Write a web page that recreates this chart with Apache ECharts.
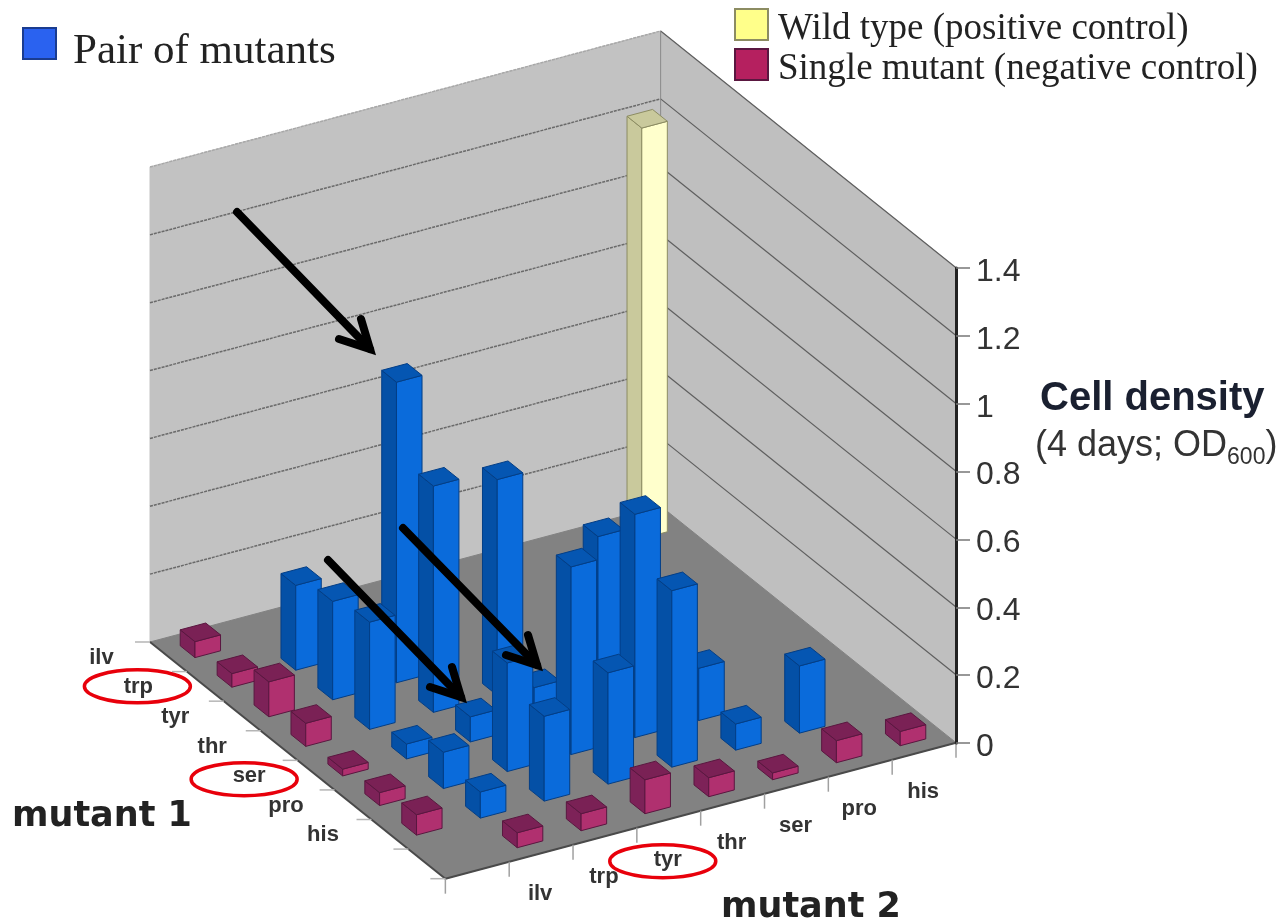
<!DOCTYPE html>
<html>
<head>
<meta charset="utf-8">
<title>Cell density of mutant pairs</title>
<style>
  html, body { margin: 0; padding: 0; background: #fff; }
  #chart { width: 1283px; height: 923px; }
</style>
</head>
<body>
<div id="chart"></div>
<script src="https://cdn.jsdelivr.net/npm/echarts@6/dist/echarts.min.js"></script>
<script>
var mutants = ["ilv", "trp", "tyr", "thr", "ser", "pro", "his"];
var zTicks = [0, 0.2, 0.4, 0.6, 0.8, 1, 1.2, 1.4];

// OD600 of each pair, one list per mutant 2, running down mutant 1 from the mutant after it
var pairIlv = [0.25, 0.29, 0.316, 0.044, 0.107, 0.077];
var pairTrp = [0.886, 0.667, 0.074, 0.32, 0.25];
var pairTyr = [0.636, 0.11, 0.553, 0.328];
var pairThr = [0.505, 0.658, 0.52];
var pairSer = [0.154, 0.077];
var pairPro = [0.198];

var singleMutant1 = [0.047, 0.04, 0.103, 0.068, 0.02, 0.038, 0.06];
var singleMutant2 = [0.044, 0.05, 0.1, 0.056, 0.02, 0.065, 0.042];
var wildType = 1.21;

// ring offset from the label it circles
var circledMutant1 = { trp: [-1, -1], ser: [-5, 3] };
var circledMutant2 = { tyr: [-5, 1] };

var PAIR = "Pair of mutants";
var WILD = "Wild type (positive control)";
var SINGLE = "Single mutant (negative control)";

// floor cells on the hidden x axis and the OD axis: one step along u / v
var CELLS = 8;
var V_X = 1.7288;
var U_Y = 0.0872;
var V_Y = 0.0501;
var FLOOR_Y = 0.2977;
var BAR_LOW = 0.3;
var BAR_HIGH = 0.7;

var faces = {
  pair: { side: "#0450A6", front: "#0A6BDB", top: "#0556B2", edge: "#033E86" },
  wild: { side: "#C9C99C", front: "#FFFFCC", top: "#C9C99C", edge: "#8C8C62" },
  single: { side: "#7D2258", front: "#B0306F", top: "#7A2155", edge: "#5A1740" },
};

var pairRows = [];
[pairIlv, pairTrp, pairTyr, pairThr, pairSer, pairPro].forEach(function (list, m2) {
  list.forEach(function (val, k) {
    pairRows.push([m2 + 1 + k, m2 + 1, val]);
  });
});
// nearest to the viewer are low v, high u, so paint high v first
pairRows.sort(function (a, b) { return b[1] - a[1] || a[0] - b[0]; });

var singleRows = [];
singleMutant1.forEach(function (val, i) { singleRows.push([i, 0, val]); });
singleMutant2.forEach(function (val, i) { singleRows.push([7, i + 1, val]); });

var wildRows = [[0, 7, wildType]];

function project(api, u, v, z) {
  return api.coord([u + v * V_X, FLOOR_Y - u * U_Y + v * V_Y + z]);
}

function poly(points, fill, stroke) {
  return {
    type: "polygon",
    shape: { points: points },
    style: { fill: fill, stroke: stroke || fill, lineWidth: 1 },
  };
}

function line(a, b, stroke, width, dash) {
  return {
    type: "line",
    shape: { x1: a[0], y1: a[1], x2: b[0], y2: b[1] },
    style: { stroke: stroke, lineWidth: width, lineDash: dash || null },
  };
}

function barRenderer(color) {
  return function (params, api) {
    var u = api.value(0);
    var v = api.value(1);
    var h = api.value(2);
    var u0 = u + BAR_LOW, u1 = u + BAR_HIGH, v0 = v + BAR_LOW, v1 = v + BAR_HIGH;
    var left0 = project(api, u0, v0, 0), left1 = project(api, u0, v0, h);
    var front0 = project(api, u1, v0, 0), front1 = project(api, u1, v0, h);
    var right0 = project(api, u1, v1, 0), right1 = project(api, u1, v1, h);
    var back1 = project(api, u0, v1, h);
    return {
      type: "group",
      children: [
        poly([left0, front0, front1, left1], color.side, color.edge),
        poly([front0, right0, right1, front1], color.front, color.edge),
        poly([left1, front1, right1, back1], color.top, color.edge),
      ],
    };
  };
}

function renderRoom(params, api) {
  var kids = [];
  var L = project(api, 0, 0, 0), F = project(api, CELLS, 0, 0);
  var R = project(api, CELLS, CELLS, 0), B = project(api, 0, CELLS, 0);
  var top = zTicks[zTicks.length - 1];

  kids.push(poly([L, B, project(api, 0, CELLS, top), project(api, 0, 0, top)], "#C2C2C2"));
  kids.push(poly([B, R, project(api, CELLS, CELLS, top), project(api, 0, CELLS, top)], "#BFBFBF"));
  kids.push(poly([L, F, R, B], "#828282"));

  zTicks.forEach(function (z, i) {
    if (i === 0) return;
    var a = project(api, 0, 0, z), b = project(api, 0, CELLS, z), c = project(api, CELLS, CELLS, z);
    var last = i === zTicks.length - 1;
    kids.push(line(a, b, last ? "#A8A8A8" : "#6A6A6A", 1.5, [3, 1]));
    kids.push(line(b, c, "#5F5F5F", 1.2));
  });
  kids.push(line(B, project(api, 0, CELLS, top), "#8A8A8A", 1));
  kids.push(line(L, F, "#4A4A4A", 2));
  kids.push(line(F, R, "#4A4A4A", 2));

  for (var k = 0; k <= CELLS; k++) {
    var p = project(api, k, 0, 0);
    kids.push(line(p, [p[0] - 15, p[1]], "#B5B5B5", 1.5));
    var q = project(api, CELLS, k, 0);
    kids.push(line(q, [q[0], q[1] + 15], "#A0A0A0", 1.5));
  }

  mutants.forEach(function (name, i) {
    var m1 = project(api, i + 0.5, 0, 0);
    var m2 = project(api, CELLS, i + 1.5, 0);
    var x1 = m1[0] - 67, y1 = m1[1] + 1;
    var x2 = m2[0] - 1, y2 = m2[1] + 41;
    [[x1, y1], [x2, y2]].forEach(function (pos) {
      kids.push({
        type: "text",
        x: pos[0],
        y: pos[1],
        style: {
          text: name,
          fill: "#333",
          font: "bold 22px 'Liberation Sans'",
          align: "center",
          verticalAlign: "middle",
        },
      });
    });
    if (circledMutant1[name]) kids.push(redRing(x1 + circledMutant1[name][0], y1 + circledMutant1[name][1]));
    if (circledMutant2[name]) kids.push(redRing(x2 + circledMutant2[name][0], y2 + circledMutant2[name][1]));
  });

  return { type: "group", children: kids };
}

function redRing(x, y) {
  return {
    type: "ellipse",
    z2: 50,
    shape: { cx: x, cy: y, rx: 53, ry: 16.5 },
    style: { fill: null, stroke: "#E8000B", lineWidth: 3.5 },
  };
}

var arrowStarts = [[237, 212], [328, 560], [403, 528]];
var arrowTips = [[370, 349], [461, 697], [537, 665]];

var arrowGraphics = [];
arrowStarts.forEach(function (s, i) {
  var t = arrowTips[i];
  var lineStyle = { stroke: "#000", lineWidth: 8, fill: null, lineJoin: "miter", lineCap: "round" };
  arrowGraphics.push({ type: "polyline", z: 100, silent: true, shape: { points: [s, t] }, style: lineStyle });
  arrowGraphics.push({
    type: "polyline",
    z: 100,
    silent: true,
    shape: { points: [[t[0] - 9, t[1] - 30], t, [t[0] - 31, t[1] - 10]] },
    style: lineStyle,
  });
});

function legendText(name) {
  return "{t|" + name + "}";
}

var chart = echarts.init(document.getElementById("chart"));

chart.setOption({
  animation: false,
  backgroundColor: "#fff",
  grid: { left: 150, top: 268, width: 806, height: 475 },
  xAxis: { type: "value", min: 0, max: CELLS + CELLS * V_X, show: false },
  yAxis: {
    type: "value",
    position: "right",
    min: 0,
    max: 1.4,
    interval: 0.2,
    splitLine: { show: false },
    axisLine: { show: true, onZero: false, lineStyle: { color: "#222", width: 3 } },
    axisTick: { show: true, length: 14, lineStyle: { color: "#777", width: 1.5 } },
    axisLabel: {
      margin: 20,
      fontSize: 32,
      fontFamily: "Liberation Sans",
      color: "#333",
      verticalAlign: "top",
      lineHeight: 8,
    },
    z: 5,
  },
  legend: [
    {
      data: [PAIR],
      left: 22,
      top: 14,
      padding: 0,
      icon: "rect",
      itemWidth: 33,
      itemHeight: 31,
      formatter: legendText,
      textStyle: {
        rich: { t: { fontFamily: "Liberation Serif", color: "#222", fontSize: 43, lineHeight: 30, padding: [16, 0, 0, 12] } },
      },
      selectedMode: false,
    },
    {
      data: [WILD, SINGLE],
      left: 734,
      top: 1,
      padding: 0,
      orient: "vertical",
      icon: "rect",
      itemWidth: 33,
      itemHeight: 31,
      itemGap: -7,
      formatter: legendText,
      textStyle: {
        rich: { t: { fontFamily: "Liberation Serif", color: "#222", fontSize: 37, lineHeight: 28, padding: [10, 0, 0, 5] } },
      },
      selectedMode: false,
    },
  ],
  title: [
    {
      text: "Cell density",
      left: 1040,
      top: 379,
      padding: 0,
      textStyle: { fontFamily: "Liberation Sans", fontWeight: "bold", fontSize: 40, color: "#1A2030" },
    },
    {
      text: "{base|(4 days; OD}{sub|600}{base|)}",
      left: 1035,
      top: 428,
      padding: 0,
      textStyle: {
        fontWeight: "normal",
        rich: {
          base: { fontFamily: "Liberation Sans", fontWeight: "normal", fontSize: 36, lineHeight: 36, color: "#333", verticalAlign: "top" },
          sub: { fontFamily: "Liberation Sans", fontWeight: "normal", fontSize: 23, lineHeight: 41, color: "#333", verticalAlign: "bottom" },
        },
      },
    },
    {
      text: "mutant 1",
      left: 12,
      top: 799,
      padding: 0,
      textStyle: { fontFamily: "DejaVu Sans", fontWeight: "bold", fontSize: 35, color: "#222" },
    },
    {
      text: "mutant 2",
      left: 721,
      top: 890,
      padding: 0,
      textStyle: { fontFamily: "DejaVu Sans", fontWeight: "bold", fontSize: 35, color: "#222" },
    },
  ],
  graphic: arrowGraphics,
  series: [
    { type: "custom", name: "room", silent: true, z: 1, data: [[0, 0]], renderItem: renderRoom },
    {
      type: "custom",
      name: WILD,
      silent: true,
      z: 2,
      itemStyle: { color: "#FFFF8A", borderColor: "#8C8C62", borderWidth: 1 },
      data: wildRows,
      renderItem: barRenderer(faces.wild),
    },
    {
      type: "custom",
      name: PAIR,
      silent: true,
      z: 3,
      itemStyle: { color: "#2A62F0", borderColor: "#1A3C90", borderWidth: 1 },
      data: pairRows,
      renderItem: barRenderer(faces.pair),
    },
    {
      type: "custom",
      name: SINGLE,
      silent: true,
      z: 4,
      itemStyle: { color: "#B5205F", borderColor: "#5A1740", borderWidth: 1 },
      data: singleRows,
      renderItem: barRenderer(faces.single),
    },
  ],
});
</script>
</body>
</html>
